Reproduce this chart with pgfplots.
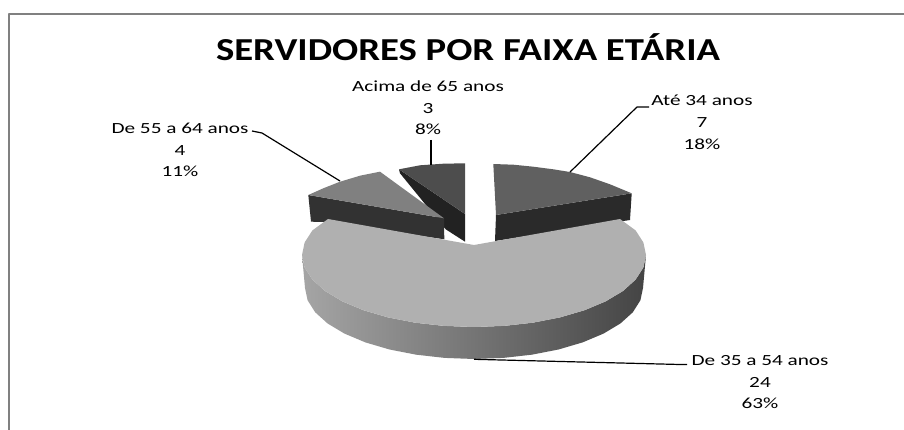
\documentclass[border=0pt]{standalone}
\usepackage{pgfplots}
\pgfplotsset{compat=1.18}
\usepackage{fontspec}
\setmainfont{Carlito}
\definecolor{frameg}{RGB}{128,128,128}
\definecolor{bigtop}{RGB}{176,176,176}
\definecolor{sideL}{RGB}{165,165,165}
\definecolor{sideM}{RGB}{105,105,105}
\definecolor{sideR}{RGB}{68,68,68}
\definecolor{w1top}{RGB}{96,96,96}
\definecolor{w1side}{RGB}{42,42,42}
\definecolor{w3top}{RGB}{128,128,128}
\definecolor{w3side}{RGB}{50,50,50}
\definecolor{w4top}{RGB}{77,77,77}
\definecolor{w4side}{RGB}{34,34,34}
\newcommand{\labline}[1]{\rule{0pt}{14.5pt}\rule[-6.3pt]{0pt}{6.3pt}\scalebox{1.37}[1]{\fontsize{15.5}{18}\selectfont #1}}
\newcommand{\lab}[3]{\labline{#1}\\\labline{#2}\\\labline{#3}}
\begin{document}
\begin{tikzpicture}
\begin{axis}[
  scale only axis, width=904pt, height=430pt,
  xmin=0, xmax=904, ymin=0, ymax=430, y dir=reverse,
  hide axis, clip=true,
  every axis plot/.append style={no markers, line join=round}]
% page extent
\addplot[draw=none] coordinates {(0,0) (904,430)};
% frame
\addplot[frameg, line width=2.2pt] coordinates {(9,430) (9,14) (904,14)};
% wedge: Até 34 anos (7)
\addplot[fill=w1side, draw=none] coordinates {(496,215) (631.7,193.3) (630,220) (495,241)} -- cycle;
\addplot[fill=w1top, draw=none] coordinates {(493.3,164) (513.3,164.7) (533.3,166.7) (553.3,169.3) (570,172) (590,177.3) (610,184.3) (631.7,193.3) (496,215)} -- cycle;
% wedge: Acima de 65 anos (3)
\addplot[fill=w4side, draw=none] coordinates {(399,169.3) (465,214) (465,241.7) (445.7,229.3) (400,173.3)} -- cycle;
\addplot[fill=w4top, draw=none] coordinates {(399,169.3) (420,165.3) (443.3,163.7) (465,163.3) (465,214)} -- cycle;
% wedge: De 55 a 64 anos (4)
\addplot[fill=w3side, draw=none] coordinates {(308.3,195) (444,218.3) (444.3,239.3) (325,222) (311,221.7)} -- cycle;
\addplot[fill=w3top, draw=none] coordinates {(308.3,195) (323.3,188.3) (340,181.7) (360,175.7) (380,171.7) (444,218.3)} -- cycle;
% big slice side
\addplot[draw=none, left color=sideL, middle color=sideM, right color=sideR] coordinates {(302,255) (304.6,267.5) (312.4,279.6) (325,291) (342.2,301.3) (363.4,310.2) (388,317.4) (415.2,322.7) (444.1,325.9) (474,327) (503.9,325.9) (532.8,322.7) (560,317.4) (584.6,310.2) (605.8,301.3) (623,291) (635.6,279.6) (643.4,267.5) (646,255) (643,288) (640.4,300.3) (632.8,312.3) (620.4,323.5) (603.5,333.6) (582.6,342.4) (558.5,349.5) (531.8,354.7) (503.3,357.9) (474,359) (444.7,357.9) (416.2,354.7) (389.5,349.5) (365.4,342.4) (344.5,333.6) (327.6,323.5) (315.2,312.3) (307.6,300.3) (305,288)} -- cycle;
% big slice top (24)
\addplot[fill=bigtop, draw=none] coordinates {(328,219) (312.4,230.4) (304.6,242.5) (302,255) (304.6,267.5) (312.4,279.6) (325,291) (342.2,301.3) (363.4,310.2) (388,317.4) (415.2,322.7) (444.1,325.9) (474,327) (503.9,325.9) (532.8,322.7) (560,317.4) (584.6,310.2) (605.8,301.3) (623,291) (635.6,279.6) (643.4,267.5) (646,255) (643.4,242.5) (635.6,230.4) (620,219) (474,245)} -- cycle;
% leaders
\addplot[black, line width=1.2pt] coordinates {(431,140) (431,165)};
\addplot[black, line width=1.2pt] coordinates {(649,107) (637,107) (570,172)};
\addplot[black, line width=1.2pt] coordinates {(252,131) (262,133) (340,181)};
\addplot[black, line width=1.2pt] coordinates {(474,359.3) (680,364.5) (687,364.5)};
% text
\node[anchor=center] at (axis cs:468,47) {\scalebox{1.21}[1]{\fontsize{32}{36}\selectfont\bfseries SERVIDORES POR FAIXA ETÁRIA}};
\node[align=center, inner sep=0pt, anchor=center] at (axis cs:428,109) {\lab{Acima de 65 anos}{3}{8\%}};
\node[align=center, inner sep=0pt, anchor=center] at (axis cs:702,123.5) {\lab{Até 34 anos}{7}{18\%}};
\node[align=center, inner sep=0pt, anchor=center] at (axis cs:180,151) {\lab{De 55 a 64 anos}{4}{11\%}};
\node[align=center, inner sep=0pt, anchor=center] at (axis cs:760,383) {\lab{De 35 a 54 anos}{24}{63\%}};
\end{axis}
\end{tikzpicture}
\end{document}
